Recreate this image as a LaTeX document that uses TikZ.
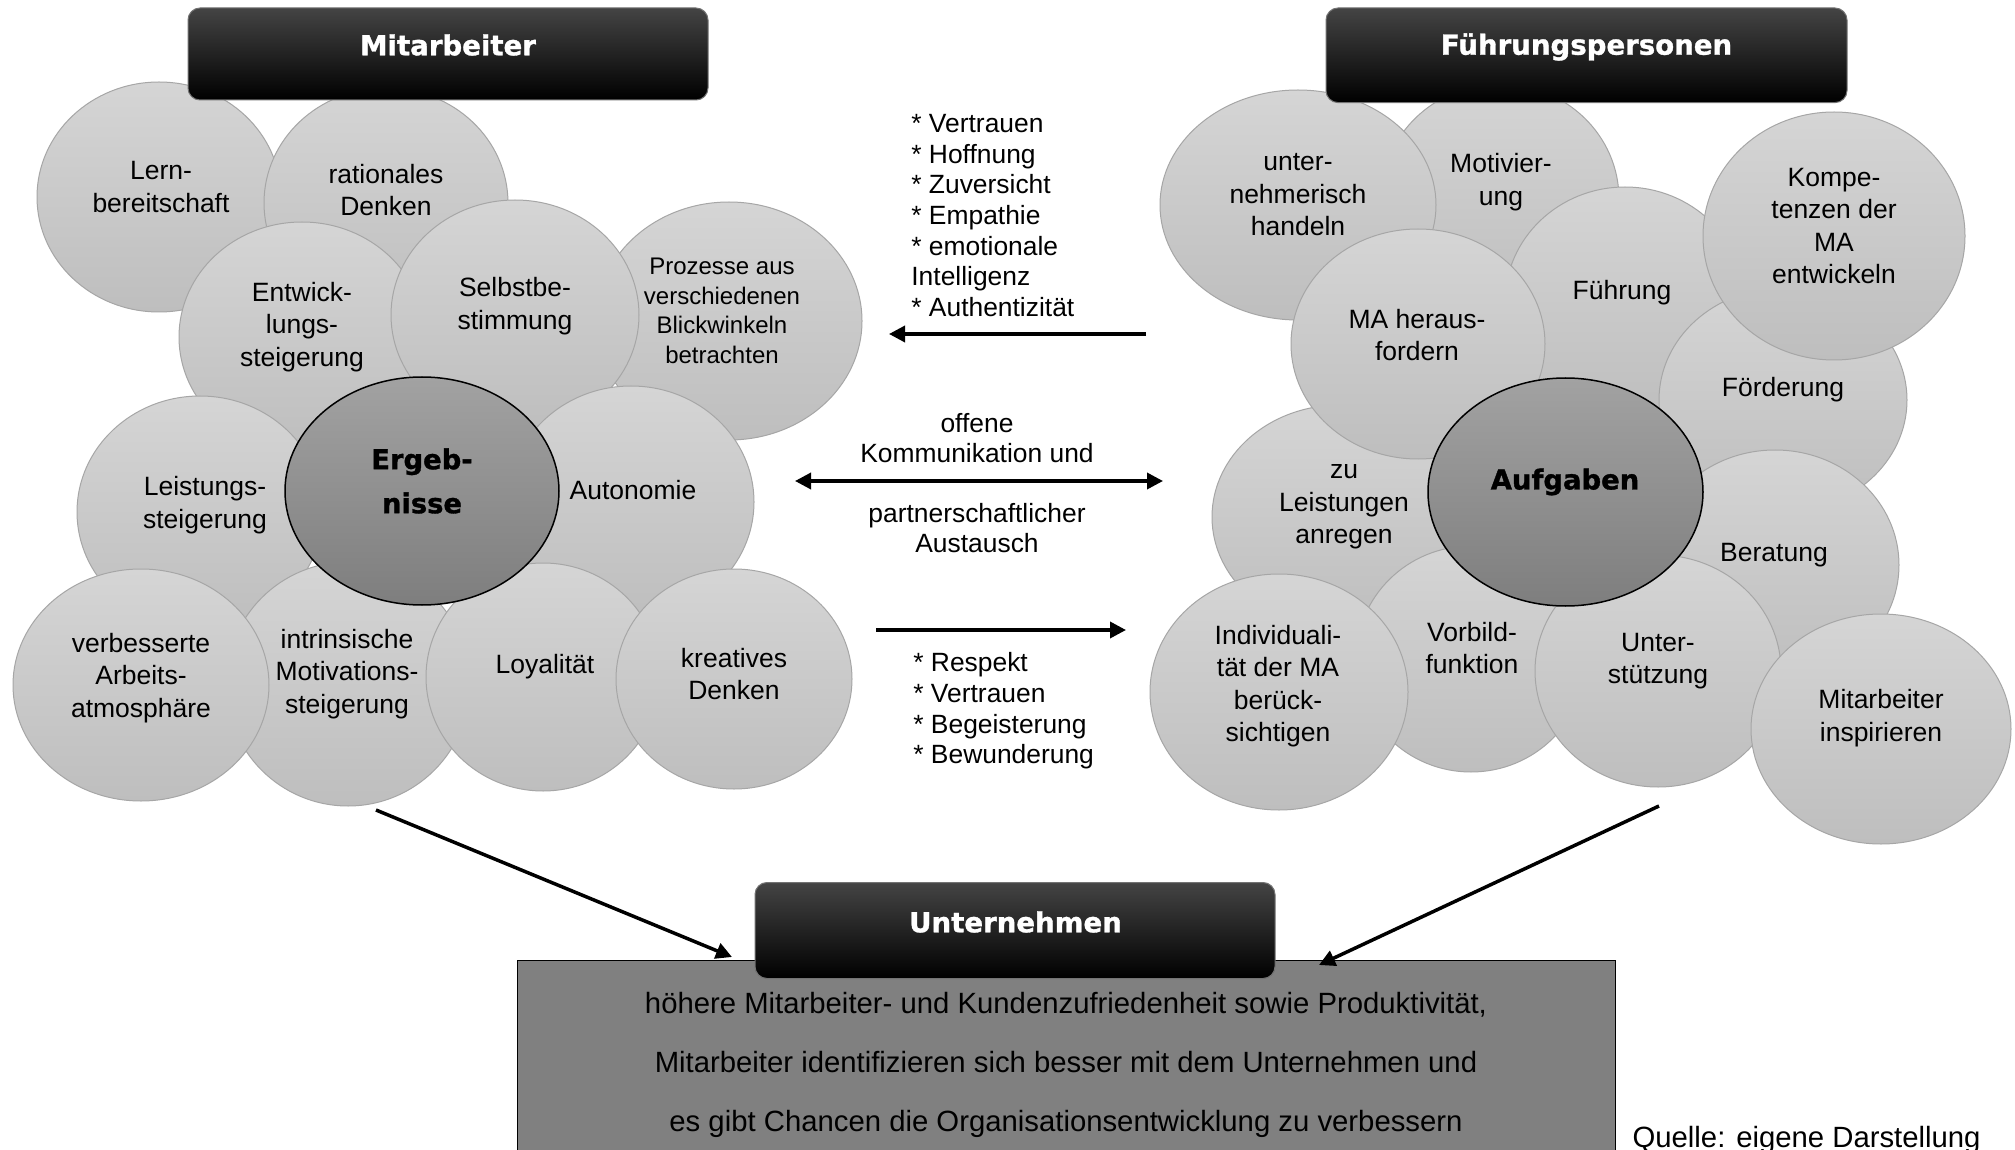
\documentclass[tikz,border=0pt]{standalone}
\usepackage{fontspec}
\setmainfont{Liberation Sans}
\newfontfamily\hdfont{DejaVu Sans}[BoldFeatures={FakeBold=1.2}]
\usetikzlibrary{shapes.geometric,arrows.meta}
\definecolor{bubtop}{HTML}{D5D5D5}
\definecolor{bubbot}{HTML}{BEBEBE}
\definecolor{bubline}{HTML}{A6A6A6}
\definecolor{ctrtop}{HTML}{A2A2A2}
\definecolor{ctrbot}{HTML}{7E7E7E}
\definecolor{hdrtop}{HTML}{444444}
\definecolor{boxfill}{HTML}{808080}
\tikzset{
 bub/.style={ellipse, draw=bubline, line width=0.5pt, top color=bubtop, bottom color=bubbot, inner sep=0pt, outer sep=0pt},
 ctr/.style={ellipse, draw=black, line width=0.75pt, top color=ctrtop, bottom color=ctrbot, inner sep=0pt, outer sep=0pt},
 btxt/.style={align=center, inner sep=0pt, font=\fontsize{13.25}{16.25}\selectfont},
 ptxt/.style={align=center, inner sep=0pt, font=\fontsize{12}{14.85}\selectfont},
 ctxt/.style={align=center, inner sep=0pt, font=\hdfont\bfseries\fontsize{13.7}{22}\selectfont},
 hdr/.style={rectangle, rounded corners=6pt, draw=black!55, line width=0.5pt, top color=hdrtop, middle color=black, bottom color=black, inner sep=0pt, outer sep=0pt},
 hdrtxt/.style={text=white, inner sep=0pt, font=\hdfont\bfseries\fontsize{13.8}{16}\selectfont},
 mtxt/.style={inner sep=0pt, font=\fontsize{13.2}{15.3}\selectfont},
 restxt/.style={align=center, inner sep=0pt, font=\fontsize{14.65}{29.35}\selectfont},
 arr/.style={line width=1.75pt, -{Triangle[length=8pt,width=8pt]}},
 darr/.style={line width=1.75pt, {Triangle[length=8pt,width=8pt]}-{Triangle[length=8pt,width=8pt]}},
}
\newcommand\Bub[8]{%
 \node[bub, minimum width=#4pt, minimum height=#5pt] (#1) at (#2,#3) {};
 \node[btxt] (#1t) at (#6,#7) {#8};
}
\begin{document}
\begin{tikzpicture}[x=0.5pt,y=-0.5pt]
\useasboundingbox (0,0) rectangle (2015,1150);
\clip (0,0) rectangle (2015,1150);
\fill[white] (0,0) rectangle (2015,1150);

% ---------- left cluster (Mitarbeiter)
\Bub{lern}{159}{197}{122}{115}{161}{187}{Lern-\\bereitschaft}
\Bub{rat}{386}{203}{122}{115}{386}{190}{rationales\\Denken}
\Bub{entw}{302}{337}{123}{115}{302}{327}{Entwick-\\lungs-\\steigerung}
\node[bub, minimum width=133pt, minimum height=119pt] (proz) at (729,321) {};
\node[ptxt] (prozt) at (722,311) {Prozesse aus\\verschiedenen\\Blickwinkeln\\betrachten};
\Bub{selb}{515}{315}{124}{115}{515}{306}{Selbstbe-\\stimmung}
\Bub{leis}{200}{512}{123}{116}{205}{505}{Leistungs-\\steigerung}
\Bub{auto}{631}{502}{123}{116}{633}{490}{Autonomie}
\Bub{intr}{348}{684}{122}{122}{347}{674}{intrinsische\\Motivations-\\steigerung}
\Bub{loy}{543}{677}{117}{114}{545}{667}{Loyalität}
\Bub{krea}{734}{679}{118}{110}{734}{674}{kreatives\\Denken}
\Bub{verb}{141}{685}{128}{116}{141}{678}{verbesserte\\Arbeits-\\atmosphäre}
\node[ctr, minimum width=137pt, minimum height=114pt] (erg) at (422,491) {};
\node[ctxt] (ergt) at (422,481) {Ergeb-\\nisse};

% ---------- right cluster (Führungspersonen)
\Bub{motv}{1500}{199}{119}{115}{1501}{182}{Motivier-\\ung}
\Bub{unter}{1298}{205}{138}{115}{1298}{195}{unter-\\nehmerisch\\handeln}
\Bub{fuhr}{1625}{302}{120}{115}{1622}{293}{Führung}
\Bub{ford}{1783}{400}{124}{112}{1783}{390}{Förderung}
\Bub{komp}{1834}{236}{131}{124}{1834}{226}{Kompe-\\tenzen der\\MA\\entwickeln}
\Bub{zul}{1340}{517}{128}{112}{1344}{507}{zu\\Leistungen\\anregen}
\Bub{mah}{1418}{344}{127}{115}{1417}{335}{MA heraus-\\fordern}
\Bub{ber}{1775}{565}{124}{115}{1774}{555}{Beratung}
\Bub{vorb}{1471}{659}{115}{113}{1472}{648}{Vorbild-\\funktion}
\Bub{indi}{1279}{692}{129}{118}{1278}{686}{Individuali-\\tät der MA\\berück-\\sichtigen}
\Bub{unst}{1658}{671}{123}{116}{1658}{661}{Unter-\\stützung}
\Bub{mai}{1881}{729}{130}{115}{1881}{718}{Mitarbeiter\\inspirieren}
\node[ctr, minimum width=137.5pt, minimum height=114pt] (auf) at (1565.5,492) {};
\node[ctxt] (auft) at (1565,482) {Aufgaben};

% ---------- headers
\node[hdr, minimum width=260pt, minimum height=46pt] (mahdr) at (448,54) {};
\node[hdrtxt] (mahdrt) at (448,45) {Mitarbeiter};
\node[hdr, minimum width=260.5pt, minimum height=47.3pt] (fphdr) at (1586.5,55.3) {};
\node[hdrtxt] (fphdrt) at (1586.5,47) {Führungspersonen};

% ---------- middle texts
\node[mtxt, align=left, anchor=west] (top) at (911,215.5) {* Vertrauen\\* Hoffnung\\* Zuversicht\\* Empathie\\* emotionale\\Intelligenz\\* Authentizität};
\node[mtxt, align=center] (kom1) at (977,438) {offene\\Kommunikation und};
\node[mtxt, align=center] (kom2) at (977,528) {partnerschaftlicher\\Austausch};
\node[mtxt, align=left, anchor=west] (bot) at (913,711) {* Respekt\\* Vertrauen\\* Begeisterung\\* Bewunderung};

% ---------- arrows
\coordinate (a1s) at (1146,334); \coordinate (a1e) at (889,334);
\coordinate (a2l) at (795,481);  \coordinate (a2r) at (1163,481);
\coordinate (a3s) at (876,630);  \coordinate (a3e) at (1126,630);
\coordinate (a4s) at (376,810);  \coordinate (a4e) at (732,957);
\coordinate (a5s) at (1659,806); \coordinate (a5e) at (1319,965);
\draw[arr] (a1s) -- (a1e);
\draw[darr] (a2l) -- (a2r);
\draw[arr] (a3s) -- (a3e);

% ---------- Unternehmen
\node[rectangle, draw=black, line width=0.5pt, fill=boxfill, minimum width=549pt, minimum height=100pt, inner sep=0pt, outer sep=0pt] (res) at (1066,1060) {};
\node[restxt] (rest) at (1066,1065) {höhere Mitarbeiter- und Kundenzufriedenheit sowie Produktivität,\\Mitarbeiter identifizieren sich besser mit dem Unternehmen und\\es gibt Chancen die Organisationsentwicklung zu verbessern};
\node[hdr, minimum width=260pt, minimum height=48pt] (unhdr) at (1015,930.5) {};
\node[hdrtxt] (unhdrt) at (1015.5,922) {Unternehmen};
\draw[arr] (a4s) -- (a4e);
\draw[arr] (a5s) -- (a5e);

\node[inner sep=0pt, anchor=base east, font=\fontsize{14.65}{17}\selectfont] (src) at (1981,1147) {Quelle: eigene Darstellung};
\end{tikzpicture}
\end{document}
